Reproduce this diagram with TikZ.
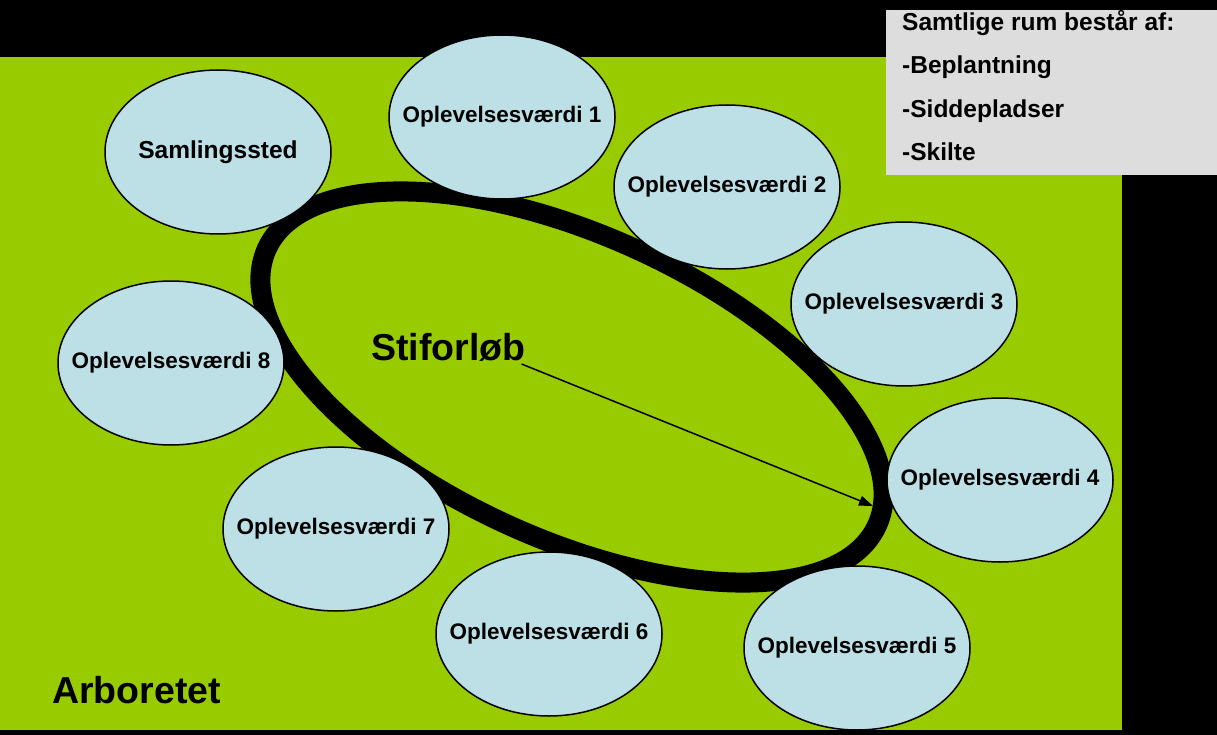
\documentclass[tikz,border=0pt]{standalone}
\usepackage{fontspec}
\setmainfont{Liberation Sans}
\usetikzlibrary{shapes.geometric,arrows.meta}
\definecolor{arbgreen}{RGB}{153,204,0}
\definecolor{bubbleblue}{RGB}{188,224,230}
\definecolor{notegray}{RGB}{221,221,221}

\begin{document}
\begin{tikzpicture}[x=1pt,y=-1pt,
  bubble/.style={ellipse,draw=black,line width=1.5pt,fill=bubbleblue,
    minimum width=226pt,minimum height=164pt,inner sep=0pt,
    font=\fontsize{22.5}{27}\selectfont\bfseries},
  bigtext/.style={font=\fontsize{37.5}{45}\selectfont\bfseries,inner sep=0pt,anchor=base west},
  notetext/.style={font=\fontsize{24.5}{29}\selectfont\bfseries,inner sep=0pt,anchor=base west}]

\useasboundingbox (0,0) rectangle (1217,735);
\fill[black] (0,0) rectangle (1217,735);
\fill[arbgreen] (0,57) rectangle (1122,730);
\fill[notegray] (886,10) rectangle (1217,175);

% the path
\node[ellipse,draw=black,line width=20pt,minimum width=670pt,minimum height=304pt,
  rotate=-24.35] (ring) at (572,387) {};

\node[bubble,font=\fontsize{24.5}{29}\selectfont\bfseries] (samling) at (218,152) {\makebox[0pt]{Samlingssted}};
\node[bubble] (op1) at (502,117) {\makebox[0pt]{Oplevelsesværdi 1}};
\node[bubble] (op2) at (727,187) {\makebox[0pt]{Oplevelsesværdi 2}};
\node[bubble] (op3) at (904,304) {\makebox[0pt]{Oplevelsesværdi 3}};
\node[bubble] (op4) at (1000,480) {\makebox[0pt]{Oplevelsesværdi 4}};
\node[bubble] (op5) at (857,648) {\makebox[0pt]{Oplevelsesværdi 5}};
\node[bubble] (op6) at (549,634) {\makebox[0pt]{Oplevelsesværdi 6}};
\node[bubble] (op7) at (336,529) {\makebox[0pt]{Oplevelsesværdi 7}};
\node[bubble] (op8) at (171,363) {\makebox[0pt]{Oplevelsesværdi 8}};

\node[bigtext] (stiforloeb) at (371,360) {Stiforløb};
\node[bigtext] (arboretet) at (52,703) {Arboretet};

\coordinate (pathend) at (873,506);
\draw[line width=1.5pt,-{Triangle[length=14pt,width=10pt]}]
  ([shift={(-4,4)}]stiforloeb.base east) -- (pathend);

% note box
\node[notetext] (notetitle) at (902,31) {Samtlige rum består af:};
\node[notetext] (note1) at (902,74) {-Beplantning};
\node[notetext] (note2) at (902,118) {-Siddepladser};
\node[notetext] (note3) at (902,161) {-Skilte};
\end{tikzpicture}
\end{document}
